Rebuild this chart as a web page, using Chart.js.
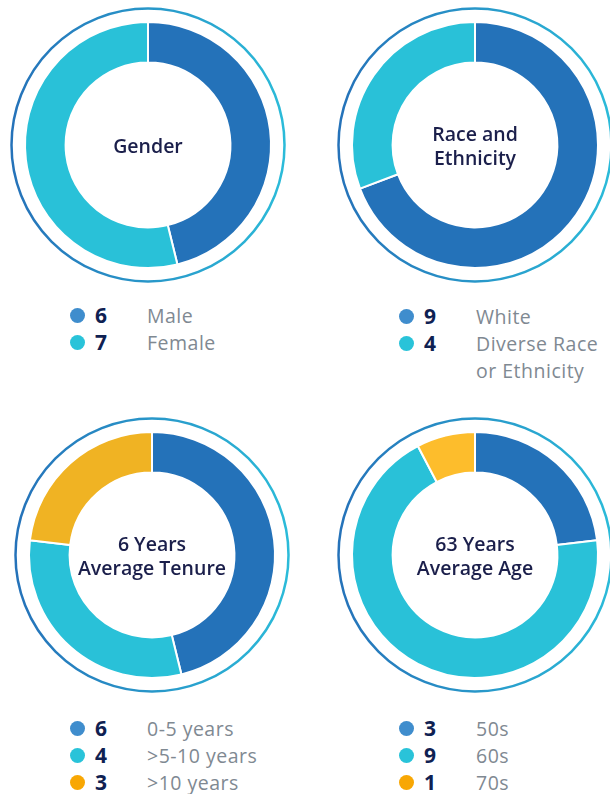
<!DOCTYPE html>
<html>
<head>
<meta charset="utf-8">
<script src="https://cdn.jsdelivr.net/npm/chart.js@4.4.1/dist/chart.umd.min.js"></script>
<style>
  html, body { margin: 0; padding: 0; background: #fff; }
  body { position: relative; width: 610px; height: 794px; overflow: hidden; font-family: "Open Sans", sans-serif; }
  canvas { position: absolute; }
  .legend { position: absolute; display: grid; grid-template-columns: 25px 52px 136px; line-height: 27px; }
  .dot { width: 15px; height: 15px; border-radius: 50%; margin-top: 6px; }
  .num { font-size: 21px; font-weight: 700; color: #0f2152; }
  .lbl { font-size: 19.5px; color: #7f8992; letter-spacing: 0.5px; }
</style>
</head>
<body>
<canvas id="gender" width="290" height="290" style="left:3px;top:0px"></canvas>
<canvas id="race" width="290" height="290" style="left:330px;top:0px"></canvas>
<canvas id="tenure" width="290" height="290" style="left:7px;top:410px"></canvas>
<canvas id="age" width="290" height="290" style="left:330px;top:410px"></canvas>
<div class="legend" id="leg-gender" style="left:70px;top:302px"></div>
<div class="legend" id="leg-race" style="left:399px;top:303px"></div>
<div class="legend" id="leg-tenure" style="left:70px;top:715px"></div>
<div class="legend" id="leg-age" style="left:399px;top:715px"></div>
<script>
// board composition
var genderLabels = ['Male', 'Female'];
var genderValues = [6, 7];

var raceLabels = ['White', 'Diverse Race or Ethnicity'];
var raceValues = [9, 4];

var tenureLabels = ['0-5 years', '>5-10 years', '>10 years'];
var tenureValues = [6, 4, 3];

var ageLabels = ['50s', '60s', '70s'];
var ageValues = [3, 9, 1];

var titles = {
  gender: ['Gender'],
  race: ['Race and', 'Ethnicity'],
  tenure: ['6 Years', 'Average Tenure'],
  age: ['63 Years', 'Average Age']
};

var sliceColors = {
  gender: ['#2472b9', '#29c1d8'],
  race: ['#2472b9', '#29c1d8'],
  tenure: ['#2472b9', '#29c1d8', '#f0b323'],
  age: ['#2472b9', '#29c1d8', '#fdbd2c']
};
var dotColors = ['#3f8dcd', '#29c3d9', '#f8a704'];

// thin gradient ring around the doughnut + title in the hole
var ringAndTitle = {
  id: 'ringAndTitle',
  afterDraw: function (chart) {
    var arc = chart.getDatasetMeta(0).data[0];
    if (!arc) return;
    var c = chart.ctx;
    var x = arc.x, y = arc.y, r = arc.outerRadius + 13.5;
    var grad = c.createLinearGradient(x - r, y, x + r, y);
    grad.addColorStop(0, '#2572b9');
    grad.addColorStop(1, '#2bbbd9');
    c.save();
    c.beginPath();
    c.arc(x, y, r, 0, Math.PI * 2);
    c.strokeStyle = grad;
    c.lineWidth = 2.5;
    c.stroke();

    var lines = chart.options.plugins.ringAndTitle.lines;
    c.fillStyle = '#1b1f4b';
    c.font = '600 19.5px "Open Sans"';
    c.textAlign = 'center';
    c.textBaseline = 'middle';
    var start = y + 2.5 - (lines.length - 1) * 12;
    lines.forEach(function (t, i) {
      c.fillText(t, x, start + i * 24);
    });
    c.restore();
  }
};

function makeDoughnut(id, labels, values) {
  return new Chart(document.getElementById(id), {
    type: 'doughnut',
    data: {
      labels: labels,
      datasets: [{
        data: values,
        backgroundColor: sliceColors[id],
        borderColor: '#ffffff',
        borderWidth: 2
      }]
    },
    options: {
      responsive: false,
      animation: false,
      cutout: '67%',
      layout: { padding: 21 },
      plugins: {
        legend: { display: false },
        tooltip: { enabled: false },
        ringAndTitle: { lines: titles[id] }
      }
    },
    plugins: [ringAndTitle]
  });
}

function makeLegend(id, labels, values) {
  var box = document.getElementById('leg-' + id);
  labels.forEach(function (l, i) {
    var dot = document.createElement('span');
    dot.className = 'dot';
    dot.style.background = dotColors[i];
    var num = document.createElement('span');
    num.className = 'num';
    num.textContent = values[i];
    var lbl = document.createElement('span');
    lbl.className = 'lbl';
    lbl.textContent = l;
    box.appendChild(dot);
    box.appendChild(num);
    box.appendChild(lbl);
  });
}

var gender = makeDoughnut('gender', genderLabels, genderValues);
var race = makeDoughnut('race', raceLabels, raceValues);
var tenure = makeDoughnut('tenure', tenureLabels, tenureValues);
var age = makeDoughnut('age', ageLabels, ageValues);

makeLegend('gender', genderLabels, genderValues);
makeLegend('race', raceLabels, raceValues);
makeLegend('tenure', tenureLabels, tenureValues);
makeLegend('age', ageLabels, ageValues);
</script>
</body>
</html>
